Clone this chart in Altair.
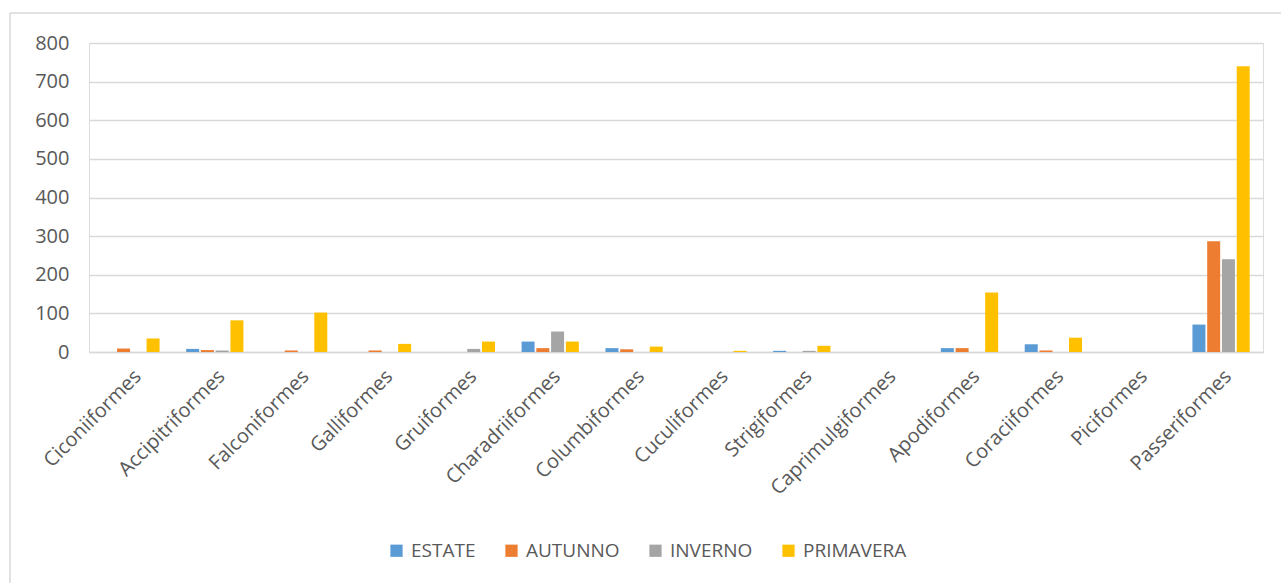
import altair as alt
import pandas as pd

categories = ["Ciconiiformes", "Accipitriformes", "Falconiformes", "Galliformes",
              "Gruiformes", "Charadriiformes", "Columbiformes", "Cuculiformes",
              "Strigiformes", "Caprimulgiformes", "Apodiformes", "Coraciiformes",
              "Piciformes", "Passeriformes"]
seasons = ["ESTATE", "AUTUNNO", "INVERNO", "PRIMAVERA"]
colors = ["#5B9BD5", "#ED7D31", "#A5A5A5", "#FFC000"]

estate = [0, 8, 0, 0, 0, 27, 10, 0, 3, 0, 10, 20, 0, 71]
autunno = [9, 5, 4, 4, 0, 10, 7, 0, 0, 0, 10, 4, 0, 287]
inverno = [0, 4, 0, 0, 8, 53, 0, 0, 3, 0, 0, 0, 0, 240]
primavera = [35, 82, 102, 21, 27, 27, 14, 3, 16, 0, 154, 37, 0, 740]
y_ticks = [0, 100, 200, 300, 400, 500, 600, 700, 800]

series = {"ESTATE": estate, "AUTUNNO": autunno, "INVERNO": inverno, "PRIMAVERA": primavera}
rows = []
for s in seasons:
    for c, v in zip(categories, series[s]):
        rows.append({"ordine": c, "stagione": s, "valore": v})
df = pd.DataFrame(rows)

FONT = "Open Sans"
TXT = "#595959"
GRID = "#D9D9D9"

bars = alt.Chart(df).mark_bar().encode(
    x=alt.X("ordine:N", sort=categories,
            scale=alt.Scale(paddingInner=0.317, paddingOuter=0.1585),
            axis=alt.Axis(title=None, labelAngle=-45, labelFontSize=20, labelColor=TXT,
                          labelFont=FONT, labelPadding=14, labelLimit=400, ticks=False,
                          domainColor=GRID, domainWidth=1.5, grid=False)),
    xOffset=alt.XOffset("stagione:N", sort=seasons,
                        scale=alt.Scale(paddingInner=0.12, paddingOuter=0)),
    y=alt.Y("valore:Q", scale=alt.Scale(domain=[0, 800], nice=False),
            axis=alt.Axis(title=None, values=y_ticks, labelFontSize=20, labelColor=TXT,
                          labelFont=FONT, labelPadding=20, ticks=False, domain=False,
                          gridColor=GRID, gridWidth=1.5)),
    color=alt.Color("stagione:N", sort=seasons,
                    scale=alt.Scale(domain=seasons, range=colors),
                    legend=alt.Legend(title=None, orient="none", legendX=298, legendY=498,
                                      direction="horizontal", symbolType="square",
                                      symbolSize=150, symbolStrokeWidth=0,
                                      labelFontSize=19, labelColor=TXT, labelFont=FONT,
                                      labelOffset=5, columnPadding=26, padding=0)),
)

frame_data = alt.Data(values=[{"k": 1}])
top_border = alt.Chart(frame_data).mark_rule(color=GRID, strokeWidth=1.5).encode(
    x=alt.value(-79), x2=alt.value(1300), y=alt.value(-30))
left_border = alt.Chart(frame_data).mark_rule(color=GRID, strokeWidth=1.5).encode(
    x=alt.value(-79), y=alt.value(-30), y2=alt.value(600))

chart = alt.layer(top_border, left_border, bars).properties(
    width=1174, height=309,
    autosize=alt.AutoSizeParams(type="none"),
    padding={"left": 89, "top": 43, "right": 18, "bottom": 231},
    background="white",
).configure_view(stroke=None).configure(font=FONT)

chart.save("out.html", embed_options={"renderer": "svg", "actions": False})
